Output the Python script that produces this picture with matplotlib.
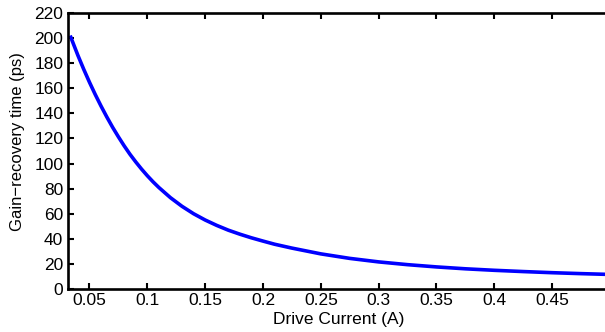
import matplotlib
matplotlib.use('Agg')
import matplotlib.pyplot as plt

# valores (curva suavizada a mano)
corriente = [0.0333, 0.04, 0.045, 0.05, 0.055, 0.06, 0.065, 0.07, 0.075,
             0.08, 0.085, 0.09, 0.095, 0.1, 0.105, 0.11, 0.12, 0.13, 0.14,
             0.15, 0.16, 0.17, 0.18, 0.19, 0.2, 0.21, 0.225, 0.25, 0.275,
             0.3, 0.325, 0.35, 0.375, 0.4, 0.425, 0.45, 0.475, 0.5]
tiempo = [202, 186.2, 175.2, 164.8, 155.0, 145.8, 137.1, 128.9, 121.3,
          114.1, 107.4, 101.3, 95.6, 90.3, 85.4, 80.9, 72.8, 65.9, 60.0,
          55.0, 50.7, 46.9, 43.7, 40.8, 38.2, 35.7, 32.6, 28.0, 24.4,
          21.6, 19.4, 17.6, 16.1, 14.9, 13.9, 13.0, 12.25, 11.6]

xticks = [0.05, 0.1, 0.15, 0.2, 0.25, 0.3, 0.35, 0.4, 0.45]
xticklabels = ['0.05', '0.1', '0.15', '0.2', '0.25', '0.3', '0.35', '0.4', '0.45']
yticks = list(range(0, 221, 20))

plt.rcParams['font.family'] = ['Liberation Sans', 'DejaVu Sans']

fig = plt.figure(figsize=(6.05, 3.32), dpi=100)
ax = fig.add_axes([67.5/605, 43/332, (610-67.5)/605, (289-13)/332])

ax.plot(corriente, tiempo, color='#0000ff', lw=2.6,
        solid_joinstyle='round', solid_capstyle='butt')

ax.set_xlim(0.031, 0.5)
ax.set_ylim(0, 220)
ax.set_xticks(xticks)
ax.set_xticklabels(xticklabels)
ax.set_yticks(yticks)
ax.tick_params(direction='in', length=4, width=1.5, labelsize=12.5,
               top=True, right=False, pad=3)
for s in ax.spines.values():
    s.set_linewidth(1.9)

ax.set_xlabel('Drive Current (A)', fontsize=12.5, labelpad=3)
ax.set_ylabel('Gain\u2212recovery time (ps)', fontsize=12)
ax.yaxis.set_label_coords((25 - 67.5) / 542.5, (289 - 141.5) / 276)

fig.savefig('out.png', dpi=100)
